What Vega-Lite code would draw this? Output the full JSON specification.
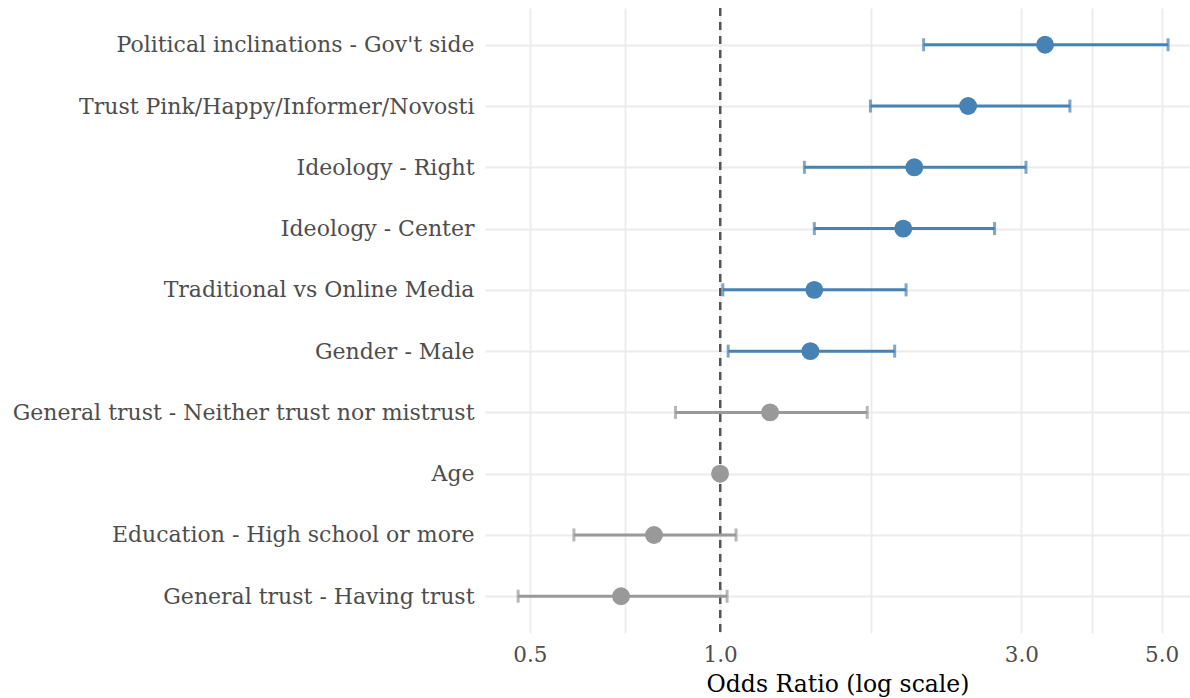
{
  "$schema": "https://vega.github.io/schema/vega-lite/v6.json",
  "width": 705,
  "height": 625,
  "autosize": {"type": "none"},
  "padding": {"left": 485, "top": 8, "right": 0, "bottom": 65},
  "background": "white",
  "config": {
    "view": {"stroke": null},
    "font": "DejaVu Serif"
  },
  "data": {
    "values": [
      {"term": "Political inclinations - Gov't side", "or": 3.27, "lo": 2.10, "hi": 5.12, "sig": "yes"},
      {"term": "Trust Pink/Happy/Informer/Novosti", "or": 2.47, "lo": 1.73, "hi": 3.58, "sig": "yes"},
      {"term": "Ideology - Right", "or": 2.03, "lo": 1.36, "hi": 3.05, "sig": "yes"},
      {"term": "Ideology - Center", "or": 1.95, "lo": 1.41, "hi": 2.72, "sig": "yes"},
      {"term": "Traditional vs Online Media", "or": 1.41, "lo": 1.01, "hi": 1.97, "sig": "yes"},
      {"term": "Gender - Male", "or": 1.39, "lo": 1.03, "hi": 1.89, "sig": "yes"},
      {"term": "General trust - Neither trust nor mistrust", "or": 1.20, "lo": 0.85, "hi": 1.71, "sig": "no"},
      {"term": "Age", "or": 1.0, "lo": 0.995, "hi": 1.005, "sig": "no"},
      {"term": "Education - High school or more", "or": 0.786, "lo": 0.587, "hi": 1.06, "sig": "no"},
      {"term": "General trust - Having trust", "or": 0.697, "lo": 0.479, "hi": 1.026, "sig": "no"}
    ]
  },
  "encoding": {
    "y": {
      "field": "term",
      "type": "nominal",
      "sort": null,
      "scale": {"type": "point", "padding": 0.6},
      "axis": {
        "title": null,
        "domain": false,
        "ticks": false,
        "labelPadding": 11,
        "labelFontSize": 22,
        "labelLimit": 0,
        "labelColor": "#4d4d4d",
        "labelFont": "DejaVu Serif",
        "grid": true,
        "gridColor": "#ebebeb",
        "gridWidth": 1.8
      }
    },
    "color": {
      "field": "sig",
      "type": "nominal",
      "scale": {"domain": ["yes", "no"], "range": ["#4682B4", "#999999"]},
      "legend": null
    }
  },
  "layer": [
    {
      "mark": {"type": "rule", "strokeDash": [8, 6], "strokeWidth": 2, "color": "#555555"},
      "encoding": {
        "x": {"datum": 1, "type": "quantitative", "scale": {"type": "log", "domain": [0.4245, 5.546], "nice": false, "zero": false}},
        "y": null,
        "color": null
      }
    },
    {
      "mark": {"type": "rule", "strokeWidth": 3},
      "encoding": {
        "x": {"field": "lo", "type": "quantitative", "scale": {"type": "log", "domain": [0.4245, 5.546], "nice": false, "zero": false},
          "axis": {
            "values": [0.5, 0.7071, 1, 1.732, 3, 3.873, 5],
            "labelExpr": "indexof([0.5, 1, 3, 5], datum.value) >= 0 ? format(datum.value, '.1f') : ''",
            "title": "Odds Ratio (log scale)",
            "titleFontSize": 23.5,
            "titleFontWeight": "normal",
            "titleColor": "#000000",
            "titleFont": "DejaVu Serif",
            "titlePadding": 7,
            "domain": false,
            "ticks": false,
            "labelPadding": 11,
            "labelFontSize": 21.5,
            "labelColor": "#4d4d4d",
            "labelFont": "DejaVu Serif",
            "grid": true,
            "gridColor": "#ebebeb",
            "gridWidth": 1.8
          }},
        "x2": {"field": "hi"}
      }
    },
    {
      "mark": {"type": "tick", "size": 13, "thickness": 3},
      "encoding": {
        "x": {"field": "lo", "type": "quantitative", "scale": {"type": "log", "domain": [0.4245, 5.546], "nice": false, "zero": false}}
      }
    },
    {
      "mark": {"type": "tick", "size": 13, "thickness": 3},
      "encoding": {
        "x": {"field": "hi", "type": "quantitative", "scale": {"type": "log", "domain": [0.4245, 5.546], "nice": false, "zero": false}}
      }
    },
    {
      "mark": {"type": "point", "filled": true, "opacity": 1, "size": 320},
      "encoding": {
        "x": {"field": "or", "type": "quantitative", "scale": {"type": "log", "domain": [0.4245, 5.546], "nice": false, "zero": false}}
      }
    }
  ]
}
